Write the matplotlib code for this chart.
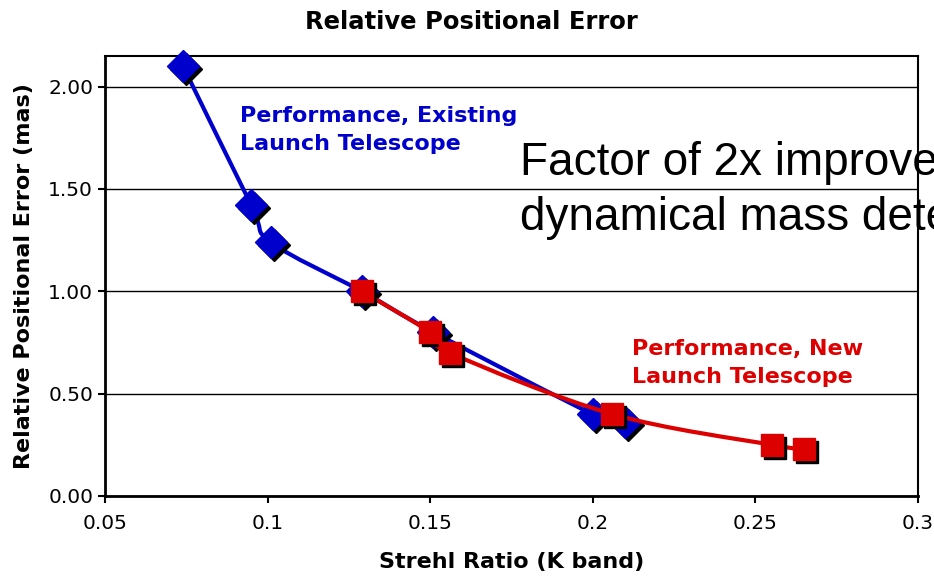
import numpy as np
import matplotlib
matplotlib.use("Agg")
import matplotlib.pyplot as plt
from matplotlib.path import Path
from matplotlib.patches import PathPatch
from matplotlib.transforms import offset_copy

# Data
existing_x = [0.074, 0.095, 0.101, 0.129, 0.151, 0.200, 0.210]
existing_y = [2.10, 1.42, 1.24, 1.00, 0.80, 0.40, 0.36]
new_x = [0.129, 0.150, 0.156, 0.206, 0.255, 0.265]
new_y = [1.00, 0.80, 0.70, 0.40, 0.25, 0.23]
x_ticks = [0.05, 0.1, 0.15, 0.2, 0.25, 0.3]
x_tick_labels = ["0.05", "0.1", "0.15", "0.2", "0.25", "0.3"]
y_ticks = [0.0, 0.5, 1.0, 1.5, 2.0]
y_tick_labels = ["0.00", "0.50", "1.00", "1.50", "2.00"]

BLUE = "#0000CC"
RED = "#DD0000"

plt.rcParams['font.family'] = ['DejaVu Sans']

fig = plt.figure(figsize=(9.34, 5.77), dpi=100)
ax = fig.add_axes([0.1124, 0.1404, 0.9829 - 0.1124, 0.903 - 0.1404])


def smooth_path(xs, ys):
    pts = np.column_stack([xs, ys]).astype(float)
    n = len(pts)
    verts = [pts[0]]
    codes = [Path.MOVETO]
    for i in range(n - 1):
        p0 = pts[i - 1] if i > 0 else pts[i]
        p1 = pts[i]
        p2 = pts[i + 1]
        p3 = pts[i + 2] if i + 2 < n else pts[i + 1]
        c1 = p1 + (p2 - p0) / 6.0
        c2 = p2 - (p3 - p1) / 6.0
        verts += [c1, c2, p2]
        codes += [Path.CURVE4] * 3
    return Path(verts, codes)


shadow = offset_copy(ax.transData, fig=fig, x=3, y=-3, units='dots')

# Existing series
ax.add_patch(PathPatch(smooth_path(existing_x, existing_y), fill=False,
                       edgecolor=BLUE, lw=3, zorder=3, capstyle='round', joinstyle='round'))
ax.plot(existing_x, existing_y, ls='none', marker='D', ms=16.5, color='black',
        mec='black', transform=shadow, zorder=4, clip_on=False)
ax.plot(existing_x, existing_y, ls='none', marker='D', ms=16.5, color=BLUE,
        mec=BLUE, zorder=5, clip_on=False)

# New series
ax.add_patch(PathPatch(smooth_path(new_x, new_y), fill=False,
                       edgecolor=RED, lw=3, zorder=6, capstyle='round', joinstyle='round'))
ax.plot(new_x, new_y, ls='none', marker='s', ms=16, color='black',
        mec='black', transform=shadow, zorder=7, clip_on=False)
ax.plot(new_x, new_y, ls='none', marker='s', ms=16, color=RED,
        mec=RED, zorder=8, clip_on=False)

ax.set_xlim(0.05, 0.3)
ax.set_ylim(0, 2.15)
ax.set_xticks(x_ticks)
ax.set_xticklabels(x_tick_labels)
ax.set_yticks(y_ticks)
ax.set_yticklabels(y_tick_labels)
ax.tick_params(axis='both', labelsize=14.5, length=5, width=1.5, direction='out')
ax.tick_params(axis='x', pad=8)
ax.grid(axis='y', color='black', lw=1)
ax.set_axisbelow(True)
for s in ['left', 'bottom']:
    ax.spines[s].set_linewidth(2)
for s in ['top', 'right']:
    ax.spines[s].set_linewidth(1.5)

fig.text(471 / 934, 1 - 22 / 577, "Relative Positional Error", fontsize=17.5,
         fontweight='bold', ha='center', va='center')
ax.set_xlabel("Strehl Ratio (K band)", fontsize=16, fontweight='bold', labelpad=14)
ax.set_ylabel("Relative Positional Error (mas)", fontsize=16, fontweight='bold', labelpad=10)

ax.text(0.0914, 1.829, "Performance, Existing", color=BLUE,
        fontsize=16, fontweight='bold', va='baseline', ha='left')
ax.text(0.0914, 1.689, "Launch Telescope", color=BLUE,
        fontsize=16, fontweight='bold', va='baseline', ha='left')
ax.text(0.212, 0.688, "Performance, New", color=RED,
        fontsize=16, fontweight='bold', va='baseline', ha='left')
ax.text(0.212, 0.552, "Launch Telescope", color=RED,
        fontsize=16, fontweight='bold', va='baseline', ha='left')
fig.text(520 / 934, 1 - 175 / 577, "Factor of 2x improvement",
         fontsize=33, family='Liberation Sans', va='baseline', ha='left')
fig.text(520 / 934, 1 - 230 / 577, "dynamical mass determination",
         fontsize=33, family='Liberation Sans', va='baseline', ha='left')

fig.savefig("out.png", dpi=100)
